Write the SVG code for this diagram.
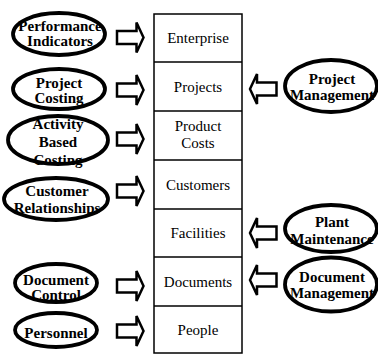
<svg xmlns="http://www.w3.org/2000/svg" width="378" height="354" viewBox="0 0 378 354">
<style>
.bg{fill:#fff}
.ell{fill:#fff;stroke:#000;stroke-width:3.8}
.lab{font-family:'Liberation Serif','Times New Roman',serif;font-weight:bold;font-size:15px;fill:#000;text-anchor:middle}
.box{fill:#fff;stroke:#000;stroke-width:1.5}
.btxt{font-family:'Liberation Serif','Times New Roman',serif;font-size:15px;fill:#000;text-anchor:middle}
.arr{fill:#fff;stroke:#000;stroke-width:2.5;stroke-linejoin:miter}
</style>
<defs>
<path id="ra" d="M-13.5,-6.5 H6 V-15 L13,0 L6,15 V6.5 H-13.5 Z"/>
<path id="la" d="M13.5,-6.5 H-6 V-15 L-13,0 L-6,15 V6.5 H13.5 Z"/>
</defs>
<rect class="bg" x="0" y="0" width="378" height="354"/>
<g id="stack">
<rect class="box" x="154" y="14" width="88" height="339"/>
<line class="box" x1="154" y1="62" x2="242" y2="62"/>
<line class="box" x1="154" y1="111" x2="242" y2="111"/>
<line class="box" x1="154" y1="160" x2="242" y2="160"/>
<line class="box" x1="154" y1="209" x2="242" y2="209"/>
<line class="box" x1="154" y1="257" x2="242" y2="257"/>
<line class="box" x1="154" y1="306" x2="242" y2="306"/>
<text class="btxt" x="198" y="43">Enterprise</text>
<text class="btxt" x="198" y="92">Projects</text>
<text class="btxt" x="198" y="131">Product</text>
<text class="btxt" x="198" y="148">Costs</text>
<text class="btxt" x="198" y="190">Customers</text>
<text class="btxt" x="198" y="238">Facilities</text>
<text class="btxt" x="198" y="287">Documents</text>
<text class="btxt" x="198" y="335">People</text>
</g>
<g id="connectors">
<use href="#ra" class="arr" x="130.5" y="37.5"/>
<use href="#ra" class="arr" x="130.5" y="90"/>
<use href="#ra" class="arr" x="130.5" y="139"/>
<use href="#ra" class="arr" x="130.5" y="191"/>
<use href="#ra" class="arr" x="130.5" y="286"/>
<use href="#ra" class="arr" x="130.5" y="331"/>
<use href="#la" class="arr" x="263" y="89"/>
<use href="#la" class="arr" x="263" y="233"/>
<use href="#la" class="arr" x="263" y="280"/>
</g>
<g id="performance-indicators">
<ellipse class="ell" cx="59" cy="34" rx="46" ry="21"/>
<text class="lab" x="60" y="31">Performance</text>
<text class="lab" x="60" y="46">Indicators</text>
</g>
<g id="project-costing">
<ellipse class="ell" cx="59" cy="89" rx="46" ry="20"/>
<text class="lab" x="59" y="88">Project</text>
<text class="lab" x="59" y="103">Costing</text>
</g>
<g id="activity-based-costing">
<ellipse class="ell" cx="58" cy="140" rx="50" ry="24"/>
<text class="lab" x="58" y="129">Activity</text>
<text class="lab" x="58" y="147">Based</text>
<text class="lab" x="58" y="165">Costing</text>
</g>
<g id="customer-relationships">
<ellipse class="ell" cx="56" cy="199" rx="52" ry="21"/>
<text class="lab" x="57" y="196">Customer</text>
<text class="lab" x="57" y="213">Relationships</text>
</g>
<g id="document-control">
<ellipse class="ell" cx="56" cy="283" rx="41" ry="19"/>
<text class="lab" x="56" y="285">Document</text>
<text class="lab" x="56" y="300">Control</text>
</g>
<g id="personnel">
<ellipse class="ell" cx="56" cy="330" rx="41" ry="17"/>
<text class="lab" x="56" y="338">Personnel</text>
</g>
<g id="project-management">
<ellipse class="ell" cx="331" cy="86" rx="46" ry="26"/>
<text class="lab" x="332" y="84">Project</text>
<text class="lab" x="332" y="100">Management</text>
</g>
<g id="plant-maintenance">
<ellipse class="ell" cx="331" cy="228.5" rx="46" ry="23.5"/>
<text class="lab" x="332" y="227">Plant</text>
<text class="lab" x="332" y="244">Maintenance</text>
</g>
<g id="document-management">
<ellipse class="ell" cx="331" cy="284.5" rx="46" ry="27"/>
<text class="lab" x="332" y="282">Document</text>
<text class="lab" x="332" y="298">Management</text>
</g>
</svg>
